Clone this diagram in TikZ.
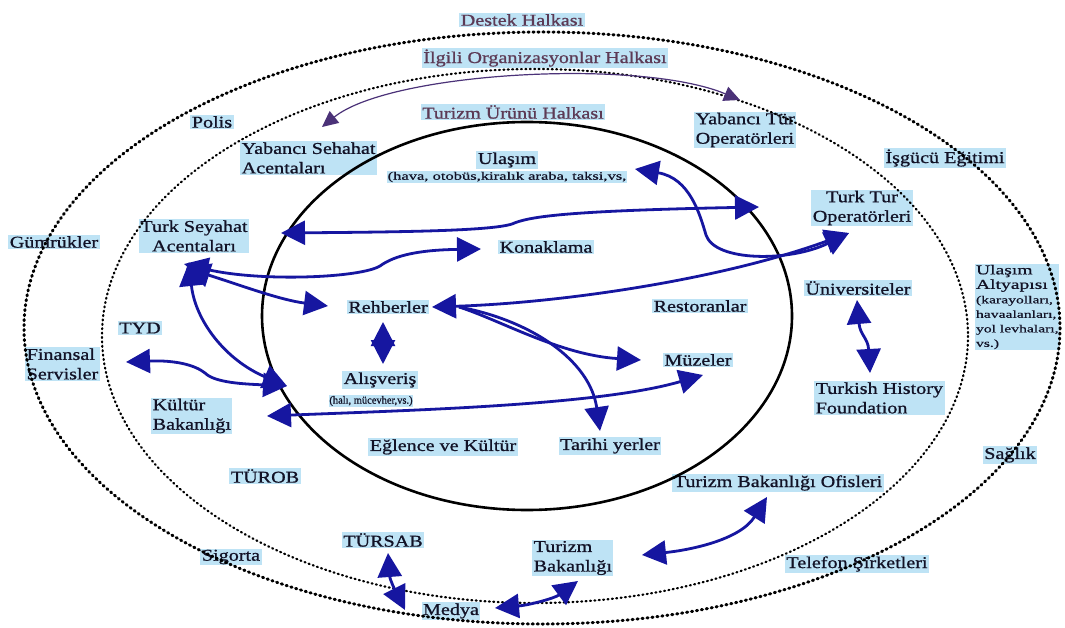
\documentclass[tikz,border=0pt]{standalone}
\usepackage{fontspec}
\setmainfont[FakeStretch=1.22,FakeBold=0.9]{Liberation Serif}
\newfontfamily\widefont[FakeStretch=1.45,FakeBold=0.7]{Liberation Serif}
\newfontfamily\plainfont[FakeStretch=0.95,FakeBold=0.7]{Liberation Serif}
\usetikzlibrary{arrows.meta}
\definecolor{boxblue}{RGB}{190,227,245}
\definecolor{txt}{RGB}{18,18,38}
\definecolor{ttlc}{RGB}{92,58,85}
\definecolor{arrc}{RGB}{22,22,160}
\definecolor{thinc}{RGB}{75,50,120}
\tikzset{
  lbl/.style={fill=boxblue, text=txt, inner xsep=1.5pt, inner ysep=1.2pt, align=center, font=\fontsize{16.5}{19.5}\selectfont},
  lbll/.style={lbl, align=left},
  ttl/.style={lbl, text=ttlc},
  subt/.style={fill=boxblue, text=txt, inner sep=0.8pt, font={\widefont\fontsize{11.4}{13}\selectfont}},
  subs/.style={fill=boxblue, text=txt, inner sep=0.8pt, font={\plainfont\fontsize{11}{12}\selectfont}},
  outerdot/.style={draw=black, line width=3pt, line cap=round, dash pattern=on 1.2pt off 3.8pt},
  middot/.style={draw=black, line width=2.2pt, line cap=round, dash pattern=on 1pt off 3.4pt},
  innerline/.style={draw=black, line width=2.6pt},
  conn/.style={draw=arrc, line width=2.8pt},
  thinconn/.style={draw=thinc, line width=1.2pt},
  bh/.tip={Triangle[length=24pt,width=24pt]},
  th/.tip={Triangle[length=16pt,width=15pt]},
}
\begin{document}
\begin{tikzpicture}[x=1pt,y=-1pt]
\useasboundingbox (0,0) rectangle (1065,628);
\fill[white] (0,0) rectangle (1065,628);

% labels
\node[ttl] (dh) at (522,20) {Destek Halkası};
\node[ttl] (io) at (545,58) {İlgili Organizasyonlar Halkası};
\node[ttl] (tu) at (513,112) {Turizm Ürünü Halkası};
\node[lbl] (polis) at (212,122) {Polis};
\node[lbll, anchor=west] (ysa) at (240,158) {Yabancı Sehahat\\Acentaları};
\node[lbl] (ulasim) at (507,160) {Ulaşım};
\node[subt] (ulsub) at (507,177) {(hava, otobüs,kiralık araba, taksi,vs,};
\node[lbll, anchor=west] (ytur) at (694,130) {Yabancı Tür\\Operatörleri};
\node[lbl] (isgucu) at (945,158) {İşgücü Eğitimi};
\node[lbl] (ttur) at (862,208) {Turk Tur\\Operatörleri};
\node[lbl] (tsey) at (194,236) {Turk Seyahat\\Acentaları};
\node[lbl] (gumruk) at (54,242) {Gümrükler};
\node[lbl] (konak) at (546,247) {Konaklama};
\node[lbl] (rehber) at (388,307) {Rehberler};
\node[lbl] (restoran) at (700,306) {Restoranlar};
\node[lbl] (univ) at (858,288) {Üniversiteler};
\node[fill=boxblue, text=txt, inner sep=0.8pt, align=left, anchor=north west,
      font={\widefont\fontsize{13.5}{14.5}\selectfont}] (ulalt) at (975,264)
      {Ulaşım\\Altyapısı\\{\fontsize{10.8}{14.5}\selectfont (karayolları,}\\{\fontsize{10.8}{14.5}\selectfont havaalanları,}\\{\fontsize{10.8}{14.5}\selectfont yol levhaları,}\\{\fontsize{10.8}{14.5}\selectfont vs.)}};
\node[lbl] (tyd) at (140,328) {TYD};
\node[lbll, anchor=west] (finans) at (25,364) {Finansal\\Servisler};
\node[lbl] (alis) at (380,380) {Alışveriş};
\node[subs] (alisub) at (371,401) {(halı, mücevher,vs.)};
\node[lbl] (muze) at (698,360) {Müzeler};
\node[lbll, anchor=west] (kultur) at (151,416) {Kültür\\Bakanlığı};
\node[lbll, anchor=west] (thf) at (814,398) {Turkish History\\Foundation};
\node[lbl] (eglence) at (443,447) {Eğlence ve Kültür};
\node[lbl] (tarihi) at (610,446) {Tarihi yerler};
\node[lbl] (saglik) at (1010,455) {Sağlık};
\node[lbl] (turob) at (265,476) {TÜROB};
\node[lbl] (tbo) at (778,483) {Turizm Bakanlığı Ofisleri};
\node[lbl] (tursab) at (383,540) {TÜRSAB};
\node[lbl] (sigorta) at (231,557) {Sigorta};
\node[lbll, anchor=west] (tbak) at (532,558) {Turizm\\Bakanlığı};
\node[lbl] (telefon) at (857,564) {Telefon Şirketleri};
\node[lbl] (medya) at (451,611) {Medya};

% rings
\draw[outerdot] (542,328) ellipse [x radius=518, y radius=296];
\draw[middot] (535,336) ellipse [x radius=433, y radius=267];
\draw[innerline] (527,316) ellipse [x radius=265, y radius=194];

% connector end points
\coordinate (ysaT) at (322,127);
\coordinate (yturT) at (740,100);
\coordinate (tseyT) at (281,233);
\coordinate (tturT) at (759,207);
\coordinate (hubA) at (184,264);
\coordinate (hubB) at (186,268);
\coordinate (hubC) at (189,262);
\coordinate (konakT) at (481,249);
\coordinate (rehberW) at (328,306);
\coordinate (alisW) at (287,386);
\coordinate (finansT) at (126,362);
\coordinate (kulturT) at (267,416);
\coordinate (muzeT) at (703,375);
\coordinate (rehberE) at (432,307);
\coordinate (rehberS) at (459,307);
\coordinate (tturS) at (849,233);
\coordinate (ulasimT) at (635,169);
\coordinate (muzeW) at (641,360);
\coordinate (tarihiT) at (600,431);
\coordinate (rehberB) at (383,322);
\coordinate (alisN) at (383,364);
\coordinate (univT) at (857,300);
\coordinate (thfT) at (870,373);
\coordinate (tbakE) at (642,555);
\coordinate (tboT) at (767,497);
\coordinate (tursabT) at (388,553);
\coordinate (medyaN) at (405,610);
\coordinate (medyaE) at (495,608);
\coordinate (tbakS) at (578,581);

% connectors
\draw[thinconn, th-th] (ysaT) .. controls (390,72) and (640,58) .. (yturT);
\draw[conn, bh-bh] (tseyT) .. controls (400,232) and (490,231) .. (512,224)
   .. controls (528,217) and (560,211) .. (tturT);
\draw[conn, bh-bh] (hubA) .. controls (260,282) and (360,278) .. (380,266)
   .. controls (395,255) and (420,250) .. (konakT);
\draw[conn, bh-bh] (hubB) .. controls (240,285) and (280,300) .. (rehberW);
\draw[conn, bh-bh] (hubC) .. controls (195,320) and (225,360) .. (alisW);
\draw[conn, bh-bh] (finansT) .. controls (175,360) and (195,365) .. (205,373)
   .. controls (215,383) and (245,384) .. (alisW);
\draw[conn, bh-bh] (kulturT) .. controls (420,410) and (600,405) .. (muzeT);
\draw[conn, bh-bh] (rehberE) .. controls (560,303) and (720,280) .. (tturS);
\draw[conn, bh-bh] (ulasimT) .. controls (690,178) and (700,215) .. (706,235)
   .. controls (715,262) and (790,262) .. (tturS);
\draw[conn, -bh] (rehberS) .. controls (500,320) and (560,355) .. (muzeW);
\draw[conn, -bh] (rehberS) .. controls (530,320) and (590,360) .. (tarihiT);
\draw[conn, bh-bh] (rehberB) -- (alisN);
\draw[conn, bh-bh] (univT) .. controls (860,335) and (868,338) .. (thfT);
\draw[conn, bh-bh] (tbakE) .. controls (690,550) and (740,540) .. (tboT);
\draw[conn, bh-bh] (tursabT) .. controls (390,580) and (395,590) .. (medyaN);
\draw[conn, bh-bh] (medyaE) .. controls (530,605) and (555,598) .. (tbakS);
\end{tikzpicture}
\end{document}
